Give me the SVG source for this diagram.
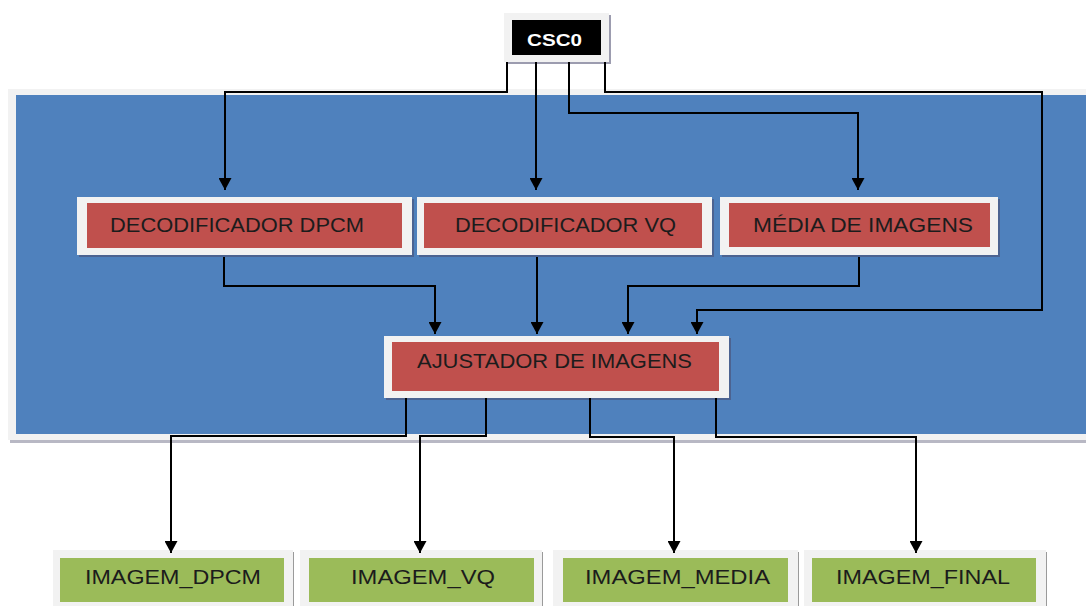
<svg xmlns="http://www.w3.org/2000/svg" width="1086" height="606" viewBox="0 0 1086 606">
<defs>
<marker id="arr" markerUnits="userSpaceOnUse" markerWidth="13" markerHeight="13" refX="12" refY="6.5" orient="auto"><path d="M0,0 L12,6.5 L0,13 Z" fill="#000"/></marker>
<style>
.frame{fill:#F2F2F2}
.shadow{fill:#4B4B6E;opacity:.55}
.red{fill:#C0504D}
.green{fill:#9BBB59}
.lbl{font-family:"Liberation Sans",Arial,sans-serif;font-size:20px;fill:#1c1c1c}
.conn{fill:none;stroke:#000;stroke-width:2}
</style>
</defs>
<rect width="1086" height="606" fill="#fff"/>
<g id="panel">
<rect x="10" y="91" width="1080" height="352" fill="#B8B8C4"/>
<rect x="8" y="89" width="1080" height="351" class="frame"/>
<rect x="16" y="95" width="1072" height="339" fill="#4F81BD"/>
</g>
<g id="csc0">
<rect x="506" y="15" width="105" height="49" class="shadow"/>
<rect x="504" y="13" width="105" height="49" class="frame"/>
<rect x="512" y="20" width="89" height="35" fill="#000"/>
<text x="527" y="46" textLength="55" lengthAdjust="spacingAndGlyphs" style="font-family:'Liberation Sans',Arial,sans-serif;font-size:17px;font-weight:bold;fill:#fff">CSC0</text>
</g>
<g id="dec-dpcm">
<rect x="79" y="199" width="335" height="58" class="shadow"/>
<rect x="77" y="197" width="335" height="58" class="frame"/>
<rect x="87" y="203" width="315" height="45" class="red"/>
<text x="110" y="232" textLength="254" lengthAdjust="spacingAndGlyphs" class="lbl">DECODIFICADOR DPCM</text>
</g>
<g id="dec-vq">
<rect x="419" y="199" width="295" height="58" class="shadow"/>
<rect x="417" y="197" width="295" height="58" class="frame"/>
<rect x="424" y="203" width="278" height="45" class="red"/>
<text x="455" y="232" textLength="221" lengthAdjust="spacingAndGlyphs" class="lbl">DECODIFICADOR VQ</text>
</g>
<g id="media">
<rect x="722" y="199" width="278" height="58" class="shadow"/>
<rect x="720" y="197" width="278" height="58" class="frame"/>
<rect x="729" y="203" width="261" height="44" class="red"/>
<text x="753" y="232" textLength="220" lengthAdjust="spacingAndGlyphs" class="lbl">MÉDIA DE IMAGENS</text>
</g>
<g id="ajustador">
<rect x="386" y="338" width="345" height="62" class="shadow"/>
<rect x="384" y="336" width="345" height="62" class="frame"/>
<rect x="392" y="342" width="327" height="49" class="red"/>
<text x="417" y="368" textLength="275" lengthAdjust="spacingAndGlyphs" class="lbl">AJUSTADOR DE IMAGENS</text>
</g>
<g id="img-dpcm">
<rect x="53" y="550" width="240" height="60" class="frame"/>
<line x1="293.5" y1="552" x2="293.5" y2="606" stroke="#9a9a9a" stroke-width="1"/>
<rect x="60" y="558" width="224" height="44" class="green"/>
<text x="85" y="584" textLength="176" lengthAdjust="spacingAndGlyphs" class="lbl">IMAGEM_DPCM</text>
</g>
<g id="img-vq">
<rect x="300" y="550" width="242" height="60" class="frame"/>
<line x1="542.5" y1="552" x2="542.5" y2="606" stroke="#9a9a9a" stroke-width="1"/>
<rect x="309" y="558" width="225" height="44" class="green"/>
<text x="351" y="584" textLength="144" lengthAdjust="spacingAndGlyphs" class="lbl">IMAGEM_VQ</text>
</g>
<g id="img-media">
<rect x="553" y="550" width="245" height="60" class="frame"/>
<line x1="798.5" y1="552" x2="798.5" y2="606" stroke="#9a9a9a" stroke-width="1"/>
<rect x="563" y="558" width="225" height="44" class="green"/>
<text x="585" y="584" textLength="185" lengthAdjust="spacingAndGlyphs" class="lbl">IMAGEM_MEDIA</text>
</g>
<g id="img-final">
<rect x="804" y="550" width="242" height="60" class="frame"/>
<line x1="1046.5" y1="552" x2="1046.5" y2="606" stroke="#9a9a9a" stroke-width="1"/>
<rect x="812" y="558" width="224" height="44" class="green"/>
<text x="836" y="584" textLength="174" lengthAdjust="spacingAndGlyphs" class="lbl">IMAGEM_FINAL</text>
</g>
<g id="connectors">
<path class="conn" d="M507,62 V92 H225 V190" marker-end="url(#arr)"/>
<path class="conn" d="M536,62 V190" marker-end="url(#arr)"/>
<path class="conn" d="M569,62 V113 H858 V190" marker-end="url(#arr)"/>
<path class="conn" d="M605,62 V92 H1042 V310 H697 V334" marker-end="url(#arr)"/>
<path class="conn" d="M224,257 V286 H435 V334" marker-end="url(#arr)"/>
<path class="conn" d="M537,257 V334" marker-end="url(#arr)"/>
<path class="conn" d="M859,257 V286 H628 V334" marker-end="url(#arr)"/>
<path class="conn" d="M406,398 V436 H171 V553" marker-end="url(#arr)"/>
<path class="conn" d="M486,398 V436 H420 V553" marker-end="url(#arr)"/>
<path class="conn" d="M590,398 V437 H674 V553" marker-end="url(#arr)"/>
<path class="conn" d="M716,398 V437 H916 V553" marker-end="url(#arr)"/>
</g>
</svg>
